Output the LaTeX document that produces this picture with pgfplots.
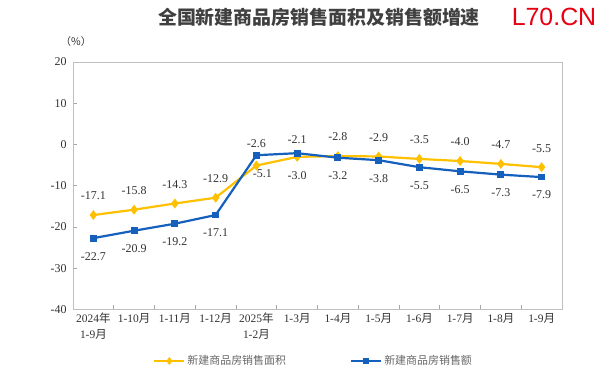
\documentclass[border=0pt]{standalone}
\usepackage{pgfplots}
\pgfplotsset{compat=1.18}
\usepackage{pgfplotstable}
\usepackage{fontspec}
\setmainfont{Liberation Serif}
\newfontfamily\cjk{Noto Sans CJK SC}
\newfontfamily\arial{Liberation Sans}
\definecolor{cy}{RGB}{255,192,0}
\definecolor{cb}{RGB}{21,96,189}
\definecolor{lab}{RGB}{50,50,50}
\definecolor{wm}{RGB}{230,0,18}

\pgfplotstableread{
x area alab sales slab
0 -17.1 -17.1 -22.7 -22.7
1 -15.8 -15.8 -20.9 -20.9
2 -14.3 -14.3 -19.2 -19.2
3 -12.9 -12.9 -17.1 -17.1
4 -5.1 -5.1 -2.6 -2.6
5 -3.0 -3.0 -2.1 -2.1
6 -2.8 -2.8 -3.2 -3.2
7 -2.9 -2.9 -3.8 -3.8
8 -3.5 -3.5 -5.5 -5.5
9 -4.0 -4.0 -6.5 -6.5
10 -4.7 -4.7 -7.3 -7.3
11 -5.5 -5.5 -7.9 -7.9
}\data

\pgfplotsset{
  lbl/.style n args={2}{draw=none, mark=none, forget plot, nodes near coords,
    point meta=explicit symbolic,
    every node near coord/.append style={anchor=center, yshift=#1, xshift=#2,
      font=\fontsize{12}{12}\selectfont, text=lab}},
}

\begin{document}
\begin{tikzpicture}
\useasboundingbox (0,0) rectangle (601bp,391bp);
\node[font=\cjk\bfseries\fontsize{19}{19}\selectfont, text=black!75] at (319bp,374bp) {全国新建商品房销售面积及销售额增速};
\node[font=\arial\fontsize{25}{25}\selectfont, text=wm] at (554bp,374bp) {L70.CN};
\node[font=\cjk\fontsize{10.5}{10.5}\selectfont, text=lab] at (76bp,349bp) {（\%）};
\begin{axis}[
  at={(73bp,81.5bp)}, anchor=south west,
  scale only axis, width=489bp, height=247.5bp,
  xmin=-0.5, xmax=11.5, ymin=-40, ymax=20,
  ytick={-40,-30,...,20},
  xtick={0.5,1.5,...,10.5}, xticklabels={},
  extra x ticks={0,1,...,11},
  extra x tick labels={{2024{\cjk 年}\\1-9{\cjk 月}},{1-10{\cjk 月}},{1-11{\cjk 月}},{1-12{\cjk 月}},{2025{\cjk 年}\\1-2{\cjk 月}},{1-3{\cjk 月}},{1-4{\cjk 月}},{1-5{\cjk 月}},{1-6{\cjk 月}},{1-7{\cjk 月}},{1-8{\cjk 月}},{1-9{\cjk 月}}},
  extra x tick style={major tick length=0pt, tick style={draw=none}},
  xticklabel style={align=center, font=\fontsize{11.5}{15.5}\selectfont, text=lab},
  yticklabel style={font=\fontsize{12}{12}\selectfont, text=lab, xshift=-3bp},
  /pgf/number format/assume math mode=true,
  tick align=inside, tick pos=left, major tick length=4bp,
  axis line style={draw=black!25, line width=0.8bp},
  tick style={black!35, line width=0.7bp},
  clip=false,
  legend style={at={(0.492,-0.208)}, anchor=center, draw=none, fill=none,
    font=\cjk\fontsize{11}{11}\selectfont, text=black!60,
    /tikz/every even column/.append style={column sep=62bp}},
  legend columns=2, legend cell align=left,
  legend image code/.code={\draw[#1, mark repeat=2, mark phase=2, mark size=2.2bp] plot coordinates {(0bp,0bp) (15bp,0bp) (30bp,0bp)};},
]
\addplot[cy, line width=2.2bp, mark=diamond*, mark size=3.2bp]
  table[x=x, y=area] {\data};
\addlegendentry{新建商品房销售面积}
\addplot[cb, line width=2.2bp, mark=square*, mark size=2.3bp]
  table[x=x, y=sales] {\data};
\addlegendentry{新建商品房销售额}
% labels: area
\addplot[lbl={19bp}{0bp}, skip coords between index={4}{6}] table[x=x, y=area, meta=alab] {\data};
\addplot[lbl={-8bp}{6bp}, skip coords between index={0}{4}, skip coords between index={5}{12}] table[x=x, y=area, meta=alab] {\data};
\addplot[lbl={-19bp}{0bp}, skip coords between index={0}{5}, skip coords between index={6}{12}] table[x=x, y=area, meta=alab] {\data};
% labels: sales
\addplot[lbl={-18bp}{0bp}, skip coords between index={4}{6}] table[x=x, y=sales, meta=slab] {\data};
\addplot[lbl={12bp}{0bp}, skip coords between index={0}{4}, skip coords between index={5}{12}] table[x=x, y=sales, meta=slab] {\data};
\addplot[lbl={14bp}{0bp}, skip coords between index={0}{5}, skip coords between index={6}{12}] table[x=x, y=sales, meta=slab] {\data};
\end{axis}
\end{tikzpicture}
\end{document}
